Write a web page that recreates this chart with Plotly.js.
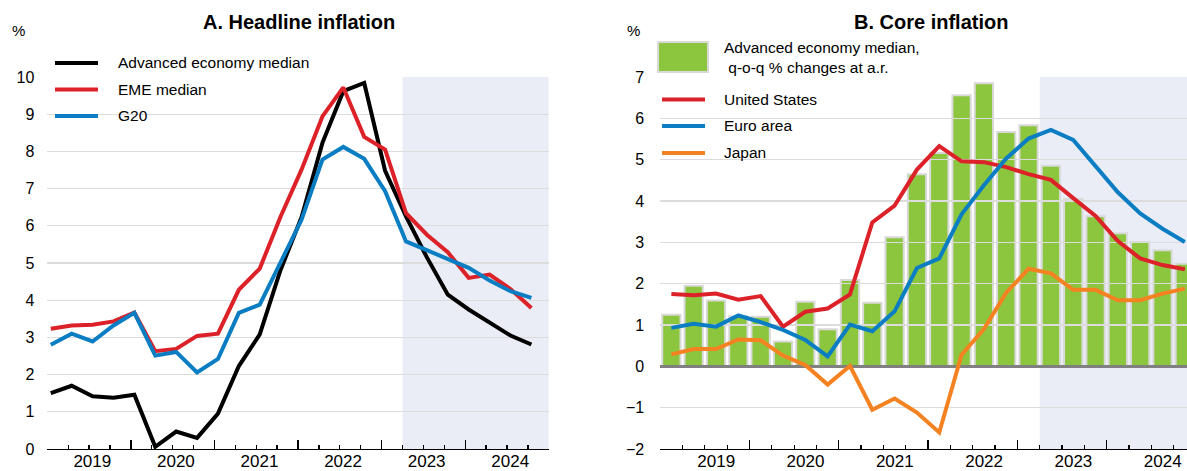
<!DOCTYPE html>
<html>
<head>
<meta charset="utf-8">
<script src="https://cdn.plot.ly/plotly-3.0.1.min.js"></script>
<style>
html, body { margin: 0; padding: 0; background: #ffffff; }
#chart { width: 1187px; height: 471px; }
</style>
</head>
<body>
<div id="chart"></div>
<script>
// ---------------- data ----------------
const quarters = [
  '2019Q1','2019Q2','2019Q3','2019Q4','2020Q1','2020Q2','2020Q3','2020Q4',
  '2021Q1','2021Q2','2021Q3','2021Q4','2022Q1','2022Q2','2022Q3','2022Q4',
  '2023Q1','2023Q2','2023Q3','2023Q4','2024Q1','2024Q2','2024Q3','2024Q4'
];
const yearLabels = ['2019', '2020', '2021', '2022', '2023', '2024'];
const projectionStart = '2023Q2';

// Panel A: headline inflation, %
const headlineNames = ['Advanced economy median', 'EME median', 'G20'];
const headlineAE  = [1.50, 1.70, 1.42, 1.38, 1.46, 0.06, 0.47, 0.30, 0.95, 2.23, 3.08, 4.82,
                     6.23, 8.23, 9.62, 9.84, 7.48, 6.25, 5.15, 4.15, 3.75, 3.41, 3.05, 2.81];
const headlineEME = [3.23, 3.32, 3.34, 3.43, 3.67, 2.63, 2.69, 3.04, 3.10, 4.28, 4.85, 6.25,
                     7.51, 8.94, 9.72, 8.39, 8.05, 6.34, 5.76, 5.29, 4.60, 4.69, 4.30, 3.79];
const headlineG20 = [2.80, 3.10, 2.89, 3.32, 3.66, 2.51, 2.61, 2.06, 2.42, 3.66, 3.88, 5.00,
                     6.16, 7.78, 8.12, 7.80, 6.93, 5.58, 5.34, 5.11, 4.87, 4.53, 4.24, 4.06];
const headlineTicks = [0, 1, 2, 3, 4, 5, 6, 7, 8, 9, 10];

// Panel B: core inflation, %
const coreBarName = 'Advanced economy median,<br>\u00a0q-o-q % changes at a.r.';
const coreAE = [1.25, 1.95, 1.59, 1.21, 1.20, 0.60, 1.56, 0.90, 2.09, 1.54, 3.12, 4.65,
                5.16, 6.56, 6.85, 5.67, 5.83, 4.85, 4.05, 3.63, 3.22, 3.01, 2.81, 2.48];
const coreLineNames = ['United States', 'Euro area', 'Japan'];
const coreUS = [1.75, 1.72, 1.76, 1.61, 1.70, 0.96, 1.32, 1.40, 1.74, 3.48, 3.89, 4.76,
                5.33, 4.96, 4.94, 4.82, 4.65, 4.51, 4.07, 3.64, 3.03, 2.61, 2.45, 2.35];
const coreEA = [0.93, 1.03, 0.96, 1.23, 1.07, 0.88, 0.64, 0.24, 1.01, 0.85, 1.33, 2.38,
                2.61, 3.68, 4.38, 5.03, 5.51, 5.72, 5.48, 4.84, 4.21, 3.70, 3.33, 3.01];
const coreJP = [0.29, 0.42, 0.42, 0.65, 0.63, 0.26, 0.03, -0.44, 0.01, -1.05, -0.78, -1.12,
                -1.60, 0.28, 0.90, 1.78, 2.36, 2.25, 1.85, 1.85, 1.60, 1.60, 1.76, 1.88];
const coreTicks = [-2, -1, 0, 1, 2, 3, 4, 5, 6, 7];

// ---------------- helpers ----------------
const W = 1187, H = 471;
const fx = p => p / W;
const fy = p => 1 - p / H;
function qx(label, offset) {
  const y = +label.slice(0, 4), q = +label.slice(5);
  return y + (q - 1) / 4 + offset;
}
const offL = 1 / 24;   // panel A points sit half a month into the quarter
const offR = 1 / 8;    // panel B points sit mid-quarter
const xL = quarters.map(q => qx(q, offL));
const xR = quarters.map(q => qx(q, offR));
const yearStarts = yearLabels.map(Number).concat([Number(yearLabels[yearLabels.length - 1]) + 1]);
const yearText = yearLabels.concat(['']);
const firstYear = yearStarts[0], lastYear = yearStarts[yearStarts.length - 1];
const projX = qx(projectionStart, 0);

const FONT = 'Liberation Sans, Arial, Helvetica, sans-serif';
const C = { black: '#000000', red: '#DC2128', blue: '#0A7DC3', orange: '#F58220',
            green: '#8CC63F', barEdge: '#D9D9D9', shade: '#EAEDF6', grid: '#DCDCDC', zero: '#808080' };

const yDom = [fy(449), fy(77)];
const pxL = [47.3, 548.8], pxR = [660.2, W];
const xDomL = [fx(pxL[0]), fx(pxL[1])];
const xDomR = [fx(pxR[0]), 1];
const pxPerYearL = (pxL[1] - pxL[0]) / 6;
const pxPerYearR = 89.3;
const rangeL = [firstYear, lastYear];
const rangeR = [firstYear, firstYear + (pxR[1] - pxR[0]) / pxPerYearR];

// ---------------- traces ----------------
const traces = [
  { type: 'scatter', mode: 'lines', x: xL, y: headlineAE, name: headlineNames[0],
    line: { color: C.black, width: 4 }, xaxis: 'x', yaxis: 'y' },
  { type: 'scatter', mode: 'lines', x: xL, y: headlineEME, name: headlineNames[1],
    line: { color: C.red, width: 4 }, xaxis: 'x', yaxis: 'y' },
  { type: 'scatter', mode: 'lines', x: xL, y: headlineG20, name: headlineNames[2],
    line: { color: C.blue, width: 4 }, xaxis: 'x', yaxis: 'y' },
  { type: 'bar', x: xR, y: coreAE, name: coreBarName, width: 0.205,
    marker: { color: C.green, line: { color: C.barEdge, width: 2 } }, xaxis: 'x2', yaxis: 'y2' },
  { type: 'scatter', mode: 'lines', x: xR, y: coreUS, name: coreLineNames[0],
    line: { color: C.red, width: 4 }, xaxis: 'x3', yaxis: 'y3' },
  { type: 'scatter', mode: 'lines', x: xR, y: coreEA, name: coreLineNames[1],
    line: { color: C.blue, width: 4 }, xaxis: 'x3', yaxis: 'y3' },
  { type: 'scatter', mode: 'lines', x: xR, y: coreJP, name: coreLineNames[2],
    line: { color: C.orange, width: 4 }, xaxis: 'x3', yaxis: 'y3' }
];

// ---------------- axes ----------------
// Long ticks at year boundaries, short ticks each quarter, labels shifted to mid-year.
function yearAxis(domain, range, anchor, shiftPx) {
  return {
    domain: domain, range: range, anchor: anchor, fixedrange: true,
    tickmode: 'array', tickvals: yearStarts, ticktext: yearText,
    ticks: 'inside', ticklen: 9, tickwidth: 1.3, tickcolor: '#000',
    showticklabels: true, ticklabelshift: Math.round(shiftPx), ticklabelstandoff: -4,
    tickfont: { family: FONT, size: 17, color: '#000' },
    showline: true, linecolor: '#000', linewidth: 1.3,
    showgrid: false, zeroline: false,
    minor: { tickmode: 'linear', tick0: firstYear, dtick: 0.25, ticks: 'inside', ticklen: 4,
             tickwidth: 1.3, tickcolor: '#000', showgrid: false }
  };
}

const layout = {
  width: W, height: H,
  margin: { l: 0, r: 0, t: 0, b: 0, pad: 0 },
  paper_bgcolor: '#ffffff', plot_bgcolor: 'rgba(0,0,0,0)',
  showlegend: false,
  font: { family: FONT, color: '#000' },
  xaxis: yearAxis(xDomL, rangeL, 'y', (0.5 + offL) * pxPerYearL),
  yaxis: {
    domain: yDom, range: [0, 10], anchor: 'x', fixedrange: true,
    tickmode: 'array', tickvals: headlineTicks, ticks: '',
    showgrid: true, gridcolor: C.grid, gridwidth: 1.3, zeroline: false, showline: false,
    tickfont: { family: FONT, size: 16, color: '#000' }, ticklabelstandoff: 12
  },
  xaxis2: yearAxis(xDomR, rangeR, 'y2', (0.5 + offR) * pxPerYearR),
  yaxis2: {
    domain: yDom, range: [-2, 7], anchor: 'x2', fixedrange: true,
    tickmode: 'array', tickvals: coreTicks, ticks: '',
    showgrid: false, zeroline: false, showline: false,
    tickfont: { family: FONT, size: 16, color: '#000' }, ticklabelstandoff: 15
  },
  // overlapping twin of panel B so that its grid lies over the bars and under the lines
  xaxis3: {
    domain: xDomR, range: rangeR, anchor: 'y3', fixedrange: true,
    showticklabels: false, ticks: '', showline: false, showgrid: false, zeroline: false
  },
  yaxis3: {
    domain: yDom, range: [-2, 7], anchor: 'x3', fixedrange: true,
    tickmode: 'array', tickvals: coreTicks.filter(v => v !== 0 && v !== coreTicks[0]), ticks: '',
    showticklabels: false, showgrid: true, gridcolor: C.grid, gridwidth: 1.3,
    zeroline: true, zerolinecolor: C.zero, zerolinewidth: 3, showline: false
  },
  shapes: [
    { type: 'rect', xref: 'x', yref: 'y', x0: projX, x1: lastYear, y0: 0, y1: 10,
      fillcolor: C.shade, line: { width: 0 }, layer: 'below' },
    { type: 'rect', xref: 'x2', yref: 'y2', x0: projX, x1: lastYear, y0: -2, y1: 7,
      fillcolor: C.shade, line: { width: 0 }, layer: 'below' },
    // legend keys, panel A
    { type: 'line', xref: 'paper', yref: 'paper', x0: fx(55), x1: fx(98), y0: fy(63), y1: fy(63),
      line: { color: C.black, width: 4 } },
    { type: 'line', xref: 'paper', yref: 'paper', x0: fx(55), x1: fx(98), y0: fy(89.5), y1: fy(89.5),
      line: { color: C.red, width: 4 } },
    { type: 'line', xref: 'paper', yref: 'paper', x0: fx(55), x1: fx(98), y0: fy(116), y1: fy(116),
      line: { color: C.blue, width: 4 } },
    // legend keys, panel B
    { type: 'rect', xref: 'paper', yref: 'paper', x0: fx(658), x1: fx(708), y0: fy(72), y1: fy(42),
      fillcolor: C.green, line: { color: C.barEdge, width: 2 } },
    { type: 'line', xref: 'paper', yref: 'paper', x0: fx(662), x1: fx(705), y0: fy(99.5), y1: fy(99.5),
      line: { color: C.red, width: 4 } },
    { type: 'line', xref: 'paper', yref: 'paper', x0: fx(662), x1: fx(705), y0: fy(126), y1: fy(126),
      line: { color: C.blue, width: 4 } },
    { type: 'line', xref: 'paper', yref: 'paper', x0: fx(662), x1: fx(705), y0: fy(153), y1: fy(153),
      line: { color: C.orange, width: 4 } }
  ],
  annotations: [
    { text: '<b>A. Headline inflation</b>', xref: 'paper', yref: 'paper', x: fx(299), y: fy(22),
      xanchor: 'center', yanchor: 'middle', showarrow: false, font: { family: FONT, size: 20, color: '#000' } },
    { text: '<b>B. Core inflation</b>', xref: 'paper', yref: 'paper', x: fx(931), y: fy(22),
      xanchor: 'center', yanchor: 'middle', showarrow: false, font: { family: FONT, size: 20, color: '#000' } },
    { text: '%', xref: 'paper', yref: 'paper', x: fx(18), y: fy(31), xanchor: 'center', yanchor: 'middle',
      showarrow: false, font: { family: FONT, size: 15, color: '#000' } },
    { text: '%', xref: 'paper', yref: 'paper', x: fx(633), y: fy(31), xanchor: 'center', yanchor: 'middle',
      showarrow: false, font: { family: FONT, size: 15, color: '#000' } },
    { text: headlineNames[0], xref: 'paper', yref: 'paper', x: fx(116), y: fy(63), xanchor: 'left', yanchor: 'middle',
      showarrow: false, font: { family: FONT, size: 15.5, color: '#000' } },
    { text: headlineNames[1], xref: 'paper', yref: 'paper', x: fx(116), y: fy(89.5), xanchor: 'left', yanchor: 'middle',
      showarrow: false, font: { family: FONT, size: 15.5, color: '#000' } },
    { text: headlineNames[2], xref: 'paper', yref: 'paper', x: fx(116), y: fy(116), xanchor: 'left', yanchor: 'middle',
      showarrow: false, font: { family: FONT, size: 15.5, color: '#000' } },
    { text: coreBarName, xref: 'paper', yref: 'paper', x: fx(722), y: fy(57.5), xanchor: 'left', yanchor: 'middle',
      align: 'left', showarrow: false, font: { family: FONT, size: 15.5, color: '#000' } },
    { text: coreLineNames[0], xref: 'paper', yref: 'paper', x: fx(722), y: fy(99.5), xanchor: 'left', yanchor: 'middle',
      showarrow: false, font: { family: FONT, size: 15.5, color: '#000' } },
    { text: coreLineNames[1], xref: 'paper', yref: 'paper', x: fx(722), y: fy(126), xanchor: 'left', yanchor: 'middle',
      showarrow: false, font: { family: FONT, size: 15.5, color: '#000' } },
    { text: coreLineNames[2], xref: 'paper', yref: 'paper', x: fx(722), y: fy(153), xanchor: 'left', yanchor: 'middle',
      showarrow: false, font: { family: FONT, size: 15.5, color: '#000' } }
  ]
};

Plotly.newPlot('chart', traces, layout, { staticPlot: true, displayModeBar: false, responsive: false });
</script>
</body>
</html>
